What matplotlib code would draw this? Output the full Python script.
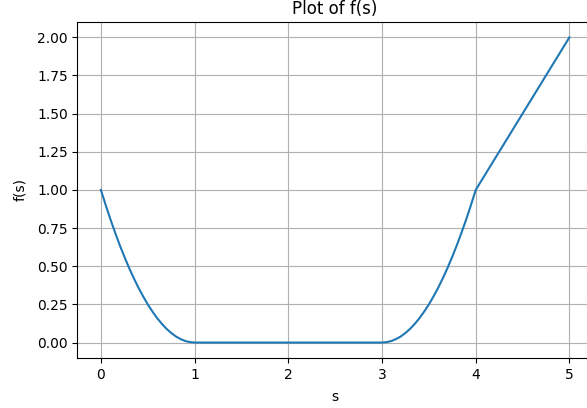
import matplotlib
matplotlib.use('Agg')
import matplotlib.pyplot as plt

# values (denser where it bends)
s_vals = [0.00, 0.05, 0.10, 0.15, 0.20, 0.25, 0.30, 0.35, 0.40, 0.45,
          0.50, 0.55, 0.60, 0.65, 0.70, 0.75, 0.80, 0.85, 0.90, 0.95,
          1.00, 2.00,
          3.00, 3.05, 3.10, 3.15, 3.20, 3.25, 3.30, 3.35, 3.40, 3.45,
          3.50, 3.55, 3.60, 3.65, 3.70, 3.75, 3.80, 3.85, 3.90, 3.95,
          4.00, 4.50, 5.00]
f_vals = [1.000, 0.903, 0.810, 0.723, 0.640, 0.563, 0.490, 0.423, 0.360, 0.303,
          0.250, 0.203, 0.160, 0.123, 0.090, 0.063, 0.040, 0.023, 0.010, 0.003,
          0.000, 0.000,
          0.000, 0.003, 0.010, 0.023, 0.040, 0.063, 0.090, 0.123, 0.160, 0.203,
          0.250, 0.303, 0.360, 0.423, 0.490, 0.563, 0.640, 0.723, 0.810, 0.903,
          1.000, 1.500, 2.000]

fig = plt.figure(figsize=(5.87, 4.08), dpi=100)
ax = fig.add_axes([0.132, 0.123, 0.878, 0.823])

ax.plot(s_vals, f_vals, color='#1f77b4', linewidth=1.5)
ax.set_title('Plot of f(s)')
ax.set_xlabel('s', labelpad=6)
ax.set_ylabel('f(s)', labelpad=7)
ax.set_yticks([0.0, 0.25, 0.5, 0.75, 1.0, 1.25, 1.5, 1.75, 2.0])
ax.grid(True)

fig.savefig('out.png', dpi=100)
